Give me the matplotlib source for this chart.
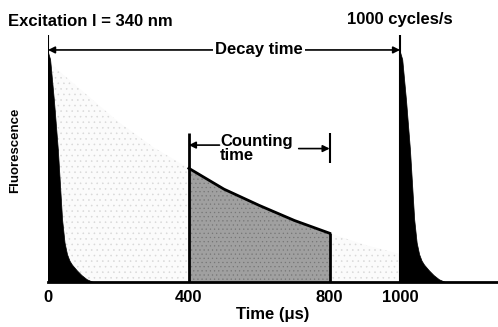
import numpy as np
import matplotlib.pyplot as plt

plt.rcParams['font.family'] = ['Liberation Sans', 'DejaVu Sans']
plt.rcParams['font.weight'] = 'bold'
plt.rcParams['hatch.linewidth'] = 0.4

# excitation pulse shape (time offset in us, relative intensity)
pulse_t = [0, 6, 17, 28, 40, 47, 54, 61, 68, 82, 95, 110, 128]
pulse_f = [0.99, 0.96, 0.78, 0.57, 0.27, 0.17, 0.12, 0.092, 0.075, 0.05, 0.03, 0.012, 0]
pulse_starts = [0, 1000]

# long-lived fluorescence decay
decay_t = [0, 100, 200, 300, 400, 500, 600, 700, 800, 900, 1000]
decay_f = [0.95, 0.82, 0.69, 0.58, 0.49, 0.40, 0.33, 0.265, 0.21, 0.16, 0.12]

gate_start, gate_end = 400, 800
tick_vals = [0, 400, 800, 1000]

fig = plt.figure(figsize=(4.98, 3.27), dpi=100)
ax = fig.add_axes([48/498, 45/327, 450/498, 252/327])
ax.set_xlim(0, 1278)
ax.set_ylim(0, 1.086)

dt = np.array(decay_t)
df = np.array(decay_f)

# faint dotted decay region
ax.fill_between(dt, 0, df, facecolor='#fbfbfb', edgecolor='#d8d8d8',
                hatch='...', linewidth=0)

# counting window
m = (dt >= gate_start) & (dt <= gate_end)
ax.fill_between(dt[m], 0, df[m], facecolor='#a0a0a0', edgecolor='#767676',
                hatch='....', linewidth=0)
ax.plot(dt[m], df[m], color='black', lw=2)
ax.vlines(gate_start, 0, 0.642, color='black', lw=2)
ax.vlines(gate_end, 0, df[m][-1], color='black', lw=2)
ax.vlines(gate_end, 0.513, 0.642, color='black', lw=1.5)

# excitation pulses
for s in pulse_starts:
    ax.fill_between(np.array(pulse_t) + s, 0, pulse_f, color='black', lw=0.5)
    ax.vlines(s, 0, 1.065, color='black', lw=1.5)

# decay time arrow
ax.annotate('', xy=(0, 1.0), xytext=(1000, 1.0),
            arrowprops=dict(arrowstyle='<|-|>', color='black', lw=1.2,
                            shrinkA=0, shrinkB=0, mutation_scale=10))
ax.text(600, 1.0, 'Decay time', ha='center', va='center', fontsize=12,
        bbox=dict(facecolor='white', edgecolor='none', pad=1.5))

# counting time arrows
ax.text(489, 0.575, 'Counting\ntime', ha='left', va='center', fontsize=12,
        linespacing=0.95)
ax.annotate('', xy=(gate_start, 0.59), xytext=(487, 0.59),
            arrowprops=dict(arrowstyle='-|>', color='black', lw=1.2,
                            shrinkA=0, shrinkB=0, mutation_scale=10))
ax.annotate('', xy=(gate_end, 0.575), xytext=(712, 0.575),
            arrowprops=dict(arrowstyle='-|>', color='black', lw=1.2,
                            shrinkA=0, shrinkB=0, mutation_scale=10))

for sp in ['left', 'right', 'top']:
    ax.spines[sp].set_visible(False)
ax.spines['bottom'].set_linewidth(2)
ax.set_yticks([])
ax.set_xticks(tick_vals)
ax.set_xticklabels([str(v) for v in tick_vals], fontsize=12)
ax.tick_params(axis='x', length=0, pad=6)
ax.set_xlabel('Time (μs)', fontsize=12, fontweight='bold', labelpad=1)

fig.text(15/498, 1 - 150/327, 'Fluorescence', rotation=90, ha='center',
         va='center', fontsize=9.5)
fig.text(8/498, 1 - 21/327, 'Excitation l = 340 nm', ha='left',
         va='center', fontsize=12)
ax.text(1000, (282 - 20) / 232, '1000 cycles/s',
        ha='center', va='center', fontsize=12, clip_on=False)

fig.savefig('out.png', dpi=100)
